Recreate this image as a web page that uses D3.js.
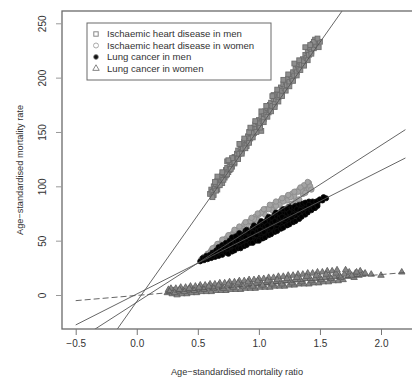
<!DOCTYPE html>
<html>
<head>
<meta charset="utf-8">
<script src="https://cdn.jsdelivr.net/npm/d3@7"></script>
<style>
  body { margin: 0; background: #fff; }
  svg { display: block; font-family: "Liberation Sans", Arial, sans-serif; }
</style>
</head>
<body>
<div id="chart"></div>
<script>
// ---- data ----
const seriesNames = [
  "Ischaemic heart disease in men",
  "Ischaemic heart disease in women",
  "Lung cancer in men",
  "Lung cancer in women"
];

const xTicks = [-0.5, 0.0, 0.5, 1.0, 1.5, 2.0];
const yTicks = [0, 50, 100, 150, 200, 250];

// fitted lines: intercept, slope (same order as seriesNames)
const fitIntercept = [-6.0, -6.7, 0.9, -0.4];
const fitSlope = [159, 72.2, 56.9, 9.6];
const fitRange = [-0.5, 2.2];

// [ratio, rate]
const ihdMen = [
  [0.60,93],[0.61,97],[0.62,95],[0.63,100],[0.63,92],[0.64,98],[0.65,102],[0.66,97],[0.66,105],[0.67,101],
  [0.68,107],[0.69,104],[0.70,110],[0.70,103],[0.71,112],[0.72,108],[0.73,115],[0.73,110],[0.74,117],[0.75,113],
  [0.76,120],[0.76,115],[0.77,122],[0.78,118],[0.79,125],[0.80,121],[0.80,127],[0.81,125],[0.82,130],[0.83,126],
  [0.83,133],[0.84,130],[0.85,135],[0.86,132],[0.86,138],[0.87,135],[0.88,141],[0.89,138],[0.90,143],[0.90,137],
  [0.91,146],[0.92,142],[0.93,149],[0.93,144],[0.94,151],[0.95,148],[0.96,154],[0.96,149],[0.97,157],[0.98,153],
  [0.99,159],[1.00,155],[1.00,161],[1.01,158],[1.02,164],[1.03,160],[1.04,167],[1.04,162],[1.05,169],[1.06,166],
  [1.07,172],[1.08,168],[1.09,175],[1.09,170],[1.10,177],[1.11,174],[1.12,180],[1.13,176],[1.13,183],[1.14,180],
  [1.15,185],[1.16,182],[1.17,188],[1.17,184],[1.18,191],[1.19,188],[1.20,194],[1.21,190],[1.22,196],[1.23,193],
  [1.24,199],[1.25,196],[1.26,202],[1.27,199],[1.28,205],[1.29,202],[1.30,208],[1.31,205],[1.32,211],[1.33,208],
  [1.34,214],[1.35,212],[1.36,217],[1.37,215],[1.38,221],[1.39,218],[1.40,224],[1.41,221],[1.42,227],[1.43,224],
  [1.44,231],[1.45,227],[1.46,235],[1.47,230],[1.49,228],[1.50,233],[0.74,123],[0.92,150],[1.12,184],[1.02,151],
  [0.62,90],[0.65,96],[0.68,101],[0.71,106],[0.74,111],[0.77,116],[0.80,122],[0.83,125],[0.86,130],[0.89,135],
  [0.92,140],[0.95,145],[0.98,150],[1.01,154],[1.04,159],[1.07,164],[1.10,169],[1.13,173],[1.16,178],[1.19,183],
  [1.22,188],[1.25,192],[1.28,197],[1.31,202],[1.34,207],[1.37,211],[1.40,216],[1.43,222],[1.45,233],[1.48,236],
  [0.64,104],[0.70,113],[0.78,126],[0.88,144],[0.97,160],[1.06,174],[1.15,189],[1.24,203],[1.33,216],[1.42,230],
  [0.66,109],[0.75,124],[0.84,139],[0.93,154],[1.02,169],[1.11,183],[1.20,198],[1.29,213],[1.38,228]
];

const ihdWomen = [
  [0.53,33],[0.55,35],[0.58,38],[0.58,34],[0.61,41],[0.61,36],[0.64,44],[0.64,38],[0.67,47],[0.67,40],
  [0.70,49],[0.70,42],[0.73,52],[0.73,45],[0.76,55],[0.76,47],[0.79,57],[0.79,49],[0.82,60],[0.82,51],
  [0.85,62],[0.85,53],[0.88,65],[0.88,56],[0.91,67],[0.91,58],[0.94,70],[0.94,60],[0.97,72],[0.97,62],
  [1.00,74],[1.00,64],[1.03,77],[1.03,66],[1.06,79],[1.06,68],[1.09,81],[1.09,70],[1.12,83],[1.12,73],
  [1.15,85],[1.15,75],[1.18,87],[1.18,77],[1.21,89],[1.21,79],[1.24,91],[1.24,81],[1.27,93],[1.27,84],
  [1.30,95],[1.30,86],[1.33,97],[1.33,88],[1.36,99],[1.36,93],[1.39,101],[1.39,96],[1.41,103],[1.41,98],
  [0.75,51],[0.87,59],[0.99,69],[1.11,78],[1.23,87],[1.35,96],[0.65,43],[0.95,66],[1.05,74],[1.17,83],
  [1.29,91],[1.42,100],[1.38,94],[1.43,97],
  [0.57,36],[0.60,39],[0.63,41],[0.66,45],[0.69,47],[0.72,50],[0.78,55],[0.81,58],[0.84,60],[0.90,64],
  [0.93,68],[0.96,70],[1.02,76],[1.08,79],[1.14,82],[1.20,86],[1.26,90],[1.32,95],[1.37,101],[1.40,104],
  [0.70,51],[0.75,55],[0.80,60],[0.84,63],[0.89,67],[0.94,71],[0.99,75],[1.04,79],[1.09,83],[1.14,86],
  [1.19,89],[1.24,92],[1.29,95],[1.34,99],[0.62,43],[0.66,47]
];

const lungMen = [
  [0.52,31],[0.55,32],[0.54,34],[0.58,33],[0.57,36],[0.61,34],[0.60,37],[0.62,39],[0.64,35],[0.63,38],
  [0.65,41],[0.67,36],[0.66,39],[0.68,42],[0.67,44],[0.70,37],[0.71,40],[0.69,43],[0.70,46],[0.73,39],
  [0.72,42],[0.74,45],[0.73,48],[0.76,40],[0.77,43],[0.75,46],[0.76,50],[0.79,42],[0.78,45],[0.80,48],
  [0.79,51],[0.78,53],[0.82,43],[0.83,46],[0.81,49],[0.82,52],[0.83,55],[0.85,45],[0.84,48],[0.86,51],
  [0.85,54],[0.84,57],[0.88,47],[0.89,50],[0.87,53],[0.88,56],[0.89,59],[0.91,48],[0.90,51],[0.92,54],
  [0.91,57],[0.90,60],[0.94,50],[0.95,53],[0.93,56],[0.94,59],[0.95,62],[0.97,52],[0.96,55],[0.98,58],
  [0.97,61],[0.96,64],[1.00,53],[1.01,56],[0.99,59],[1.00,62],[1.01,66],[1.03,55],[1.02,58],[1.04,61],
  [1.03,64],[1.02,68],[1.06,57],[1.07,60],[1.05,63],[1.06,66],[1.07,70],[1.09,59],[1.08,62],[1.10,65],
  [1.09,68],[1.08,72],[1.12,61],[1.13,64],[1.11,67],[1.12,70],[1.13,74],[1.15,63],[1.14,66],[1.16,69],
  [1.15,72],[1.14,76],[1.18,65],[1.19,68],[1.17,71],[1.18,74],[1.19,78],[1.21,67],[1.20,70],[1.22,73],
  [1.21,76],[1.20,79],[1.24,69],[1.25,72],[1.23,75],[1.24,78],[1.25,81],[1.27,71],[1.26,74],[1.28,77],
  [1.27,80],[1.30,73],[1.31,76],[1.29,79],[1.30,82],[1.33,75],[1.32,78],[1.34,81],[1.33,83],[1.36,77],
  [1.37,80],[1.35,83],[1.39,79],[1.38,82],[1.40,85],[1.42,80],[1.43,83],[1.41,86],[1.45,82],[1.46,85],
  [1.48,84],[1.49,87],[1.52,87],[1.55,89],
  [0.56,34],[0.62,36],[0.65,38],[0.68,40],[0.71,44],[0.74,43],[0.77,47],[0.80,45],[0.81,54],[0.83,50],
  [0.86,49],[0.87,55],[0.89,53],[0.92,58],[0.93,52],[0.95,57],[0.98,55],[0.99,63],[1.01,60],[1.04,58],
  [1.05,67],[1.07,64],[1.10,62],[1.11,71],[1.13,68],[1.16,66],[1.17,75],[1.19,72],[1.22,70],[1.23,79],
  [1.25,76],[1.28,74],[1.29,81],[1.31,79],[1.34,78],[1.36,84],[1.38,85],[1.41,83],[1.44,86],[1.47,86],
  [1.50,88],[1.53,90],[1.46,80],[1.40,78],
  [0.75,38],[0.78,40],[0.80,41],[0.83,43],[0.85,43],[0.88,45],[0.90,46],[0.93,48],[0.95,48],[0.98,50],
  [1.00,50],[1.03,52],[1.05,53],[1.08,55],[1.10,56],[1.13,58],[1.15,59],[1.18,61],[1.20,62],[1.23,64],
  [1.25,65],[1.28,67],[1.30,68],[1.33,70],[1.35,72],[1.38,74],[1.40,76],[1.43,78],[1.45,80],[1.48,82]
];

const lungWomen = [
  [0.25,2],[0.26,5],[0.29,1],[0.30,4],[0.28,6],[0.33,0],[0.34,3],[0.32,6],[0.37,1],[0.38,4],
  [0.36,7],[0.41,1],[0.42,4],[0.40,7],[0.45,2],[0.46,5],[0.44,8],[0.49,2],[0.50,5],[0.48,8],
  [0.53,3],[0.54,6],[0.52,9],[0.57,3],[0.58,6],[0.56,9],[0.61,3],[0.62,7],[0.60,10],[0.65,4],
  [0.66,7],[0.64,10],[0.69,4],[0.70,7],[0.68,11],[0.73,4],[0.74,8],[0.72,11],[0.77,5],[0.78,8],
  [0.76,12],[0.81,5],[0.82,9],[0.80,12],[0.85,5],[0.86,9],[0.84,13],[0.89,6],[0.90,9],[0.88,13],
  [0.93,6],[0.94,10],[0.92,14],[0.97,6],[0.98,10],[0.96,14],[1.01,7],[1.02,11],[1.00,15],[1.05,7],
  [1.06,11],[1.04,15],[1.09,7],[1.10,11],[1.08,16],[1.13,8],[1.14,12],[1.12,16],[1.17,8],[1.18,12],
  [1.16,17],[1.21,8],[1.22,13],[1.20,17],[1.25,9],[1.26,13],[1.24,18],[1.29,9],[1.30,14],[1.28,18],
  [1.33,10],[1.34,14],[1.32,19],[1.37,10],[1.38,15],[1.36,19],[1.41,10],[1.42,15],[1.40,20],[1.45,11],
  [1.46,15],[1.44,20],[1.49,11],[1.50,16],[1.48,21],[1.53,12],[1.54,16],[1.52,21],[1.57,12],[1.58,17],
  [1.56,22],[1.61,13],[1.62,17],[1.60,22],[1.65,13],[1.66,18],[1.69,14],[1.70,19],[1.73,17],[1.74,21],
  [1.78,16],[1.79,20],[1.82,18],[1.83,22],[1.85,19],[2.00,18],[2.17,21],
  [0.27,3],[0.31,2],[0.35,5],[0.39,3],[0.43,6],[0.47,4],[0.51,7],[0.55,5],[0.59,8],[0.63,6],
  [0.67,9],[0.71,6],[0.75,10],[0.79,7],[0.83,11],[0.87,8],[0.91,12],[0.95,8],[0.99,13],[1.03,9],
  [1.07,13],[1.11,10],[1.15,14],[1.19,10],[1.23,15],[1.27,11],[1.31,16],[1.35,12],[1.39,17],[1.43,13],
  [1.47,18],[1.51,14],[1.55,19],[1.59,15],[1.63,20],[1.67,16],[1.71,23],[1.76,18],[1.64,23],[1.80,21],
  [1.87,20],[1.92,19]
];

// ---- layout ----
const W = 412, H = 378;
const plot = { left: 62, top: 11, right: 415, bottom: 329 };

const svg = d3.select("#chart").append("svg")
  .attr("width", W).attr("height", H);

const x = d3.scaleLinear().domain([-0.5, 2.0]).range([75.7, 381]);
const y = d3.scaleLinear().domain([0, 250]).range([295, 23.3]);

svg.append("clipPath").attr("id", "clip")
  .append("rect")
  .attr("x", plot.left).attr("y", plot.top)
  .attr("width", plot.right - plot.left).attr("height", plot.bottom - plot.top);

const g = svg.append("g").attr("clip-path", "url(#clip)");

// points
const sq = 4.8;
g.append("g").selectAll("rect").data(ihdMen).enter().append("rect")
  .attr("x", d => x(d[0]) - sq / 2).attr("y", d => y(d[1]) - sq / 2)
  .attr("width", sq).attr("height", sq)
  .attr("fill", "#8e8e8e").attr("stroke", "#6c6c6c").attr("stroke-width", 0.9);

g.append("g").selectAll("circle").data(ihdWomen).enter().append("circle")
  .attr("cx", d => x(d[0])).attr("cy", d => y(d[1])).attr("r", 2.7)
  .attr("fill", "#a4a4a4").attr("stroke", "#8c8c8c").attr("stroke-width", 0.9);

g.append("g").selectAll("circle").data(lungMen).enter().append("circle")
  .attr("cx", d => x(d[0])).attr("cy", d => y(d[1])).attr("r", 2.6)
  .attr("fill", "#000").attr("stroke", "#111").attr("stroke-width", 0.8);

const tri = d3.symbol().type(d3.symbolTriangle).size(18);
g.append("g").selectAll("path").data(lungWomen).enter().append("path")
  .attr("d", tri)
  .attr("transform", d => "translate(" + x(d[0]) + "," + y(d[1]) + ")")
  .attr("fill", "#858585").attr("stroke", "#5a5a5a").attr("stroke-width", 0.8);

// fitted lines
const line = d3.line().x(d => x(d[0])).y(d => y(d[1]));
fitSlope.forEach((b, i) => {
  const pts = fitRange.map(v => [v, fitIntercept[i] + b * v]);
  g.append("path")
    .attr("d", line(pts))
    .attr("fill", "none")
    .attr("stroke", "#555")
    .attr("stroke-width", 0.9)
    .attr("stroke-dasharray", i === 3 ? "6,3" : null);
});

// frame
svg.append("rect")
  .attr("x", plot.left).attr("y", plot.top)
  .attr("width", plot.right - plot.left).attr("height", plot.bottom - plot.top)
  .attr("fill", "none").attr("stroke", "#6a6a6a").attr("stroke-width", 1.3);

// axes
const xAxis = svg.append("g")
  .attr("transform", "translate(0," + plot.bottom + ")")
  .call(d3.axisBottom(x).tickValues(xTicks).tickSize(6).tickPadding(5)
    .tickFormat(d3.format(".1f")));
xAxis.select(".domain").remove();
xAxis.selectAll("line").attr("stroke", "#777");
xAxis.selectAll("text")
  .attr("font-size", 10).attr("fill", "#333")
  .attr("font-family", "'Liberation Sans', Arial, sans-serif");

const yAxis = svg.append("g")
  .attr("transform", "translate(" + plot.left + ",0)")
  .call(d3.axisLeft(y).tickValues(yTicks).tickSize(6).tickFormat(d3.format("d")));
yAxis.select(".domain").remove();
yAxis.selectAll("line").attr("stroke", "#999");
yAxis.selectAll("text")
  .attr("x", null).attr("dy", null)
  .attr("text-anchor", "middle")
  .attr("transform", "translate(-16,0) rotate(-90)")
  .attr("y", 0)
  .attr("font-size", 10).attr("fill", "#333")
  .attr("font-family", "'Liberation Sans', Arial, sans-serif");

// axis titles
svg.append("text")
  .attr("x", 237).attr("y", 375)
  .attr("text-anchor", "middle")
  .attr("font-size", 9.2).attr("fill", "#333")
  .text("Age\u2212standardised mortality ratio");

svg.append("text")
  .attr("transform", "translate(23,170) rotate(-90)")
  .attr("text-anchor", "middle")
  .attr("font-size", 9.2).attr("fill", "#333")
  .text("Age\u2212standardised mortality rate");

// legend
const leg = svg.append("g");
leg.append("rect")
  .attr("x", 87).attr("y", 23).attr("width", 184).attr("height", 57)
  .attr("fill", "#fff").attr("stroke", "#6a6a6a").attr("stroke-width", 1);

const rowY = [34, 45.5, 57, 68.5];
const symX = 96;
seriesNames.forEach((name, i) => {
  const cy = rowY[i];
  if (i === 0) {
    leg.append("rect").attr("x", symX - 2.2).attr("y", cy - 2.2)
      .attr("width", 4.4).attr("height", 4.4)
      .attr("fill", "none").attr("stroke", "#888");
  } else if (i === 1) {
    leg.append("circle").attr("cx", symX).attr("cy", cy).attr("r", 2.5)
      .attr("fill", "none").attr("stroke", "#aaa");
  } else if (i === 2) {
    leg.append("circle").attr("cx", symX).attr("cy", cy).attr("r", 2.4)
      .attr("fill", "#111").attr("stroke", "#888").attr("stroke-width", 0.8);
  } else {
    leg.append("path").attr("d", tri)
      .attr("transform", "translate(" + symX + "," + cy + ")")
      .attr("fill", "none").attr("stroke", "#777").attr("stroke-width", 0.9);
  }
  leg.append("text")
    .attr("x", 107).attr("y", cy + 3.4)
    .attr("font-size", 9.6).attr("fill", "#333")
    .text(name);
});
</script>
</body>
</html>
